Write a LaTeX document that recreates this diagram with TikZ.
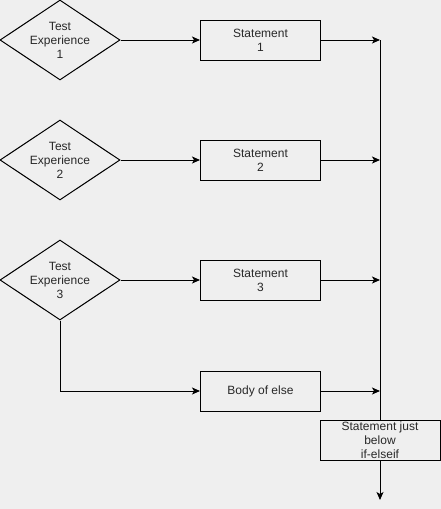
\documentclass[tikz,border=0pt]{standalone}
\usepackage{fontspec}
\setmainfont{Liberation Sans}
\usepackage{tikz}
\usetikzlibrary{arrows.meta,positioning,shapes.geometric}
\definecolor{pagebg}{RGB}{239,239,239}
\definecolor{labelgray}{RGB}{40,40,40}

\begin{document}
\begin{tikzpicture}[x=1pt,y=-1pt,line width=1pt,
   font=\fontsize{12}{14}\selectfont,
   test/.style={draw,diamond,aspect=1.5,inner sep=0pt,minimum width=120pt,minimum height=80pt,
                align=center,text=labelgray},
   stmt/.style={draw,rectangle,inner sep=0pt,minimum width=120pt,minimum height=40pt,
                align=center,text=labelgray,fill=pagebg},
   flow/.style={-{Stealth[length=8pt,width=7pt,inset=2pt]}}]
  \fill[pagebg] (0,0) rectangle (441,509);
  \useasboundingbox (0,0) rectangle (441,509);
  % conditions
  \node[test] (t1) at (60,40) {Test\\Experience\\1};
  \node[test] (t2) at (60,160) {Test\\Experience\\2};
  \node[test] (t3) at (60,280) {Test\\Experience\\3};
  % branch bodies
  \node[stmt,right=80pt of t1.center,xshift=60pt] (s1) {Statement\\1};
  \node[stmt,right=80pt of t2.center,xshift=60pt] (s2) {Statement\\2};
  \node[stmt,right=80pt of t3.center,xshift=60pt] (s3) {Statement\\3};
  \node[stmt,below=70pt of s3] (els) {Body of else};
  % joining line
  \coordinate (jtop) at (380,40);
  \coordinate (jend) at (380,500);
  \draw[flow] (jtop) -- (jend);
  \node[stmt] (after) at (380,440) {Statement just\\below\\if-elseif};
  \draw[flow] (t1) -- (s1);
  \draw[flow] (t2) -- (s2);
  \draw[flow] (t3) -- (s3);
  \draw[flow] (t3.south) |- (els);
  \draw[flow] (s1) -- (s1 -| jtop);
  \draw[flow] (s2) -- (s2 -| jtop);
  \draw[flow] (s3) -- (s3 -| jtop);
  \draw[flow] (els) -- (els -| jtop);
\end{tikzpicture}
\end{document}
